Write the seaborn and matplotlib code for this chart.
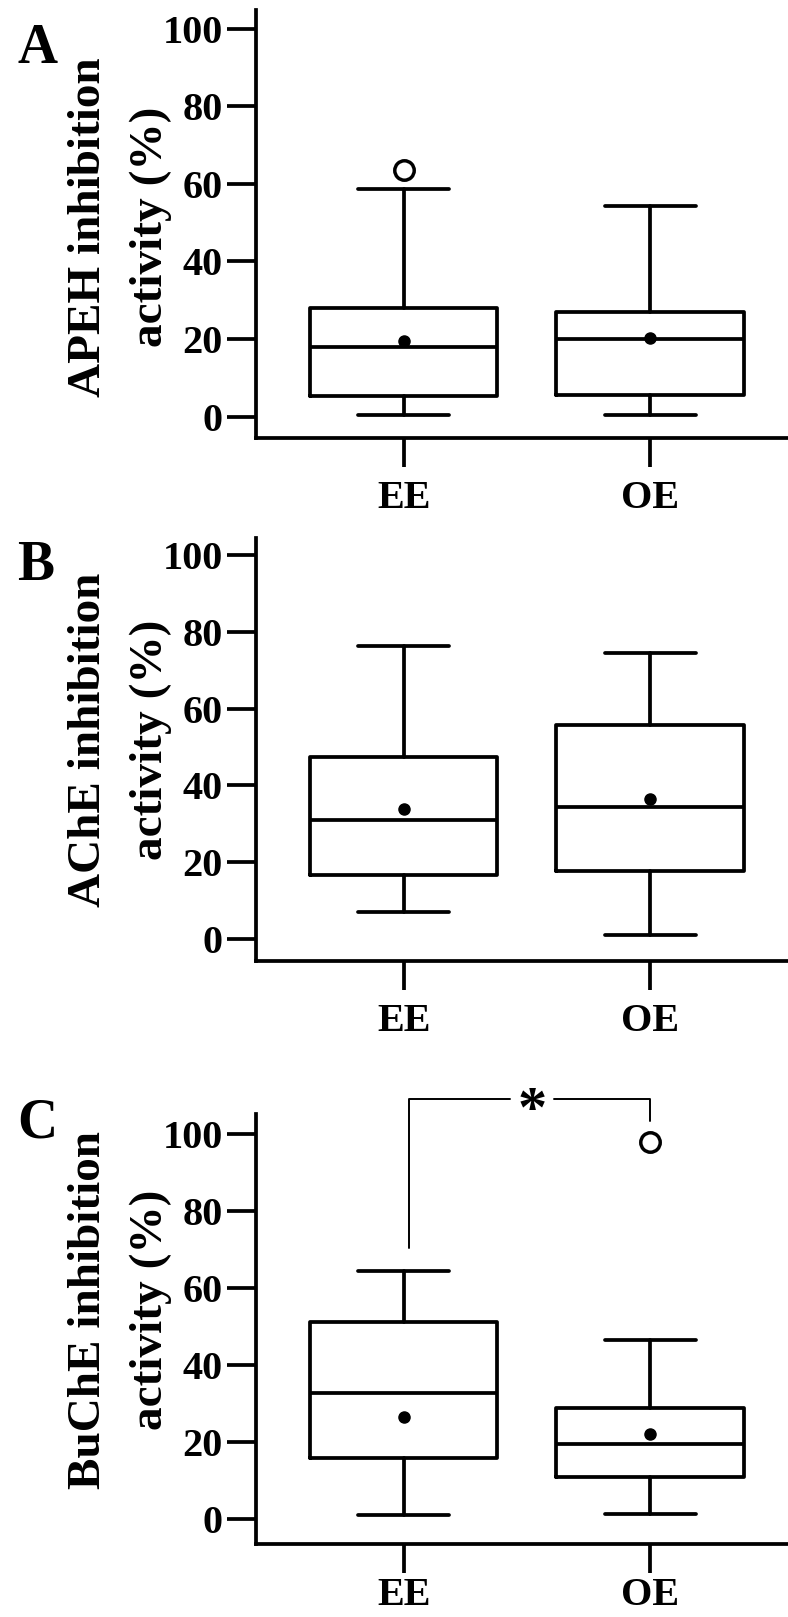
import numpy as np
import pandas as pd
import matplotlib
matplotlib.use("Agg")
import matplotlib.pyplot as plt
import seaborn as sns

# --- data (summary stats per group) ---
groups = ["EE", "OE"]

apeh_lo = [0.4, 0.4]
apeh_q1 = [5.4, 5.7]
apeh_med = [17.9, 20.1]
apeh_q3 = [27.9, 26.9]
apeh_hi = [58.6, 54.3]
apeh_mean = [19.5, 20.2]
apeh_out = [[63.6], []]

ache_lo = [7.1, 1.2]
ache_q1 = [16.8, 17.7]
ache_med = [31.1, 34.5]
ache_q3 = [47.5, 55.8]
ache_hi = [76.3, 74.3]
ache_mean = [34.0, 36.4]
ache_out = [[], []]

buche_lo = [1.1, 1.5]
buche_q1 = [16.0, 11.1]
buche_med = [32.8, 19.6]
buche_q3 = [51.3, 29.0]
buche_hi = [64.4, 46.5]
buche_mean = [26.6, 22.3]
buche_out = [[], [98.0]]

panels = [
    ("A", ["APEH inhibition", "activity (%)"], apeh_lo, apeh_q1, apeh_med, apeh_q3, apeh_hi, apeh_mean, apeh_out),
    ("B", ["AChE inhibition", "activity (%)"], ache_lo, ache_q1, ache_med, ache_q3, ache_hi, ache_mean, ache_out),
    ("C", ["BuChE inhibition", "activity (%)"], buche_lo, buche_q1, buche_med, buche_q3, buche_hi, buche_mean, buche_out),
]

# significance bracket on panel C
sig_y = 109.3
sig_left_end = 70.5
sig_right_end = 103.6
sig_label = "*"

sns.set_theme(style="ticks")
plt.rcParams.update({
    "font.family": "Liberation Serif",
    "font.weight": "bold",
    "text.color": "black",
    "axes.edgecolor": "black",
    "axes.labelcolor": "black",
    "xtick.color": "black",
    "ytick.color": "black",
})

W, H = 788, 1617
fig = plt.figure(figsize=(W / 100, H / 100), dpi=100)

# axes boxes in pixels: (top, bottom) of the spines
ax_px = [(10, 438), (538, 961), (1114, 1544)]
ylims = [(-5.5, 104.8), (-5.6, 104.3), (-6.4, 105.3)]
label_cy = [227, 740, 1310]
letter_base = [63, 580, 1137]
xpads = [9, 9, 3]
lw = 2.7
FONT = dict(family="Liberation Serif", weight="bold", color="black")

for i, (letter, ylab, lo, q1, med, q3, hi, mean, out) in enumerate(panels):
    top, bot = ax_px[i]
    ax = fig.add_axes([256 / W, 1 - bot / H, (W - 256) / W, (bot - top) / H])
    stats = []
    for g in range(len(groups)):
        stats.append(dict(label=groups[g], whislo=lo[g], q1=q1[g], med=med[g],
                          q3=q3[g], whishi=hi[g], mean=mean[g], fliers=out[g]))
    ax.bxp(stats, positions=[0, 1], widths=0.76, showmeans=True, patch_artist=False,
           boxprops=dict(color="black", linewidth=lw),
           medianprops=dict(color="black", linewidth=lw),
           whiskerprops=dict(color="black", linewidth=lw),
           capprops=dict(color="black", linewidth=lw),
           capwidths=0.37,
           meanprops=dict(marker="o", markerfacecolor="black", markeredgecolor="black",
                          markersize=8),
           flierprops=dict(marker="o", markerfacecolor="white", markeredgecolor="black",
                           markersize=14, markeredgewidth=2.5))
    ax.set_xlim(-0.6, 1.56)
    ax.set_ylim(*ylims[i])
    ax.set_yticks([0, 20, 40, 60, 80, 100])
    ax.set_xticks([0, 1])
    ax.set_xticklabels(groups)
    sns.despine(ax=ax)
    for s in ["left", "bottom"]:
        ax.spines[s].set_linewidth(lw)
        ax.spines[s].set_color("black")
    ax.tick_params(axis="both", length=21, width=lw, labelsize=29, color="black")
    ax.tick_params(axis="y", pad=3)
    ax.tick_params(axis="x", pad=xpads[i])
    for t in ax.get_xticklabels() + ax.get_yticklabels():
        t.set_fontfamily("Liberation Serif")
        t.set_fontweight("bold")
        t.set_color("black")
    ax.set_facecolor("white")

    # two-line rotated y label
    fig.text(100 / W, 1 - label_cy[i] / H, ylab[0], rotation=90, rotation_mode="anchor",
             ha="center", va="baseline", fontsize=34, **FONT)
    fig.text(162 / W, 1 - label_cy[i] / H, ylab[1], rotation=90, rotation_mode="anchor",
             ha="center", va="baseline", fontsize=34, **FONT)
    fig.text(17 / W, 1 - letter_base[i] / H, letter, ha="left", va="baseline",
             fontsize=40, **FONT)

    if letter == "C":
        kw = dict(color="black", linewidth=1.4, clip_on=False)
        ax.plot([0.02, 0.02, 0.43], [sig_left_end, sig_y, sig_y], **kw)
        ax.plot([0.61, 1.0, 1.0], [sig_y, sig_y, sig_right_end], **kw)
        ax.text(0.52, sig_y - 3.5, sig_label, ha="center", va="center", fontsize=42,
                clip_on=False, **FONT)

fig.savefig("out.png", dpi=100, facecolor="white")
